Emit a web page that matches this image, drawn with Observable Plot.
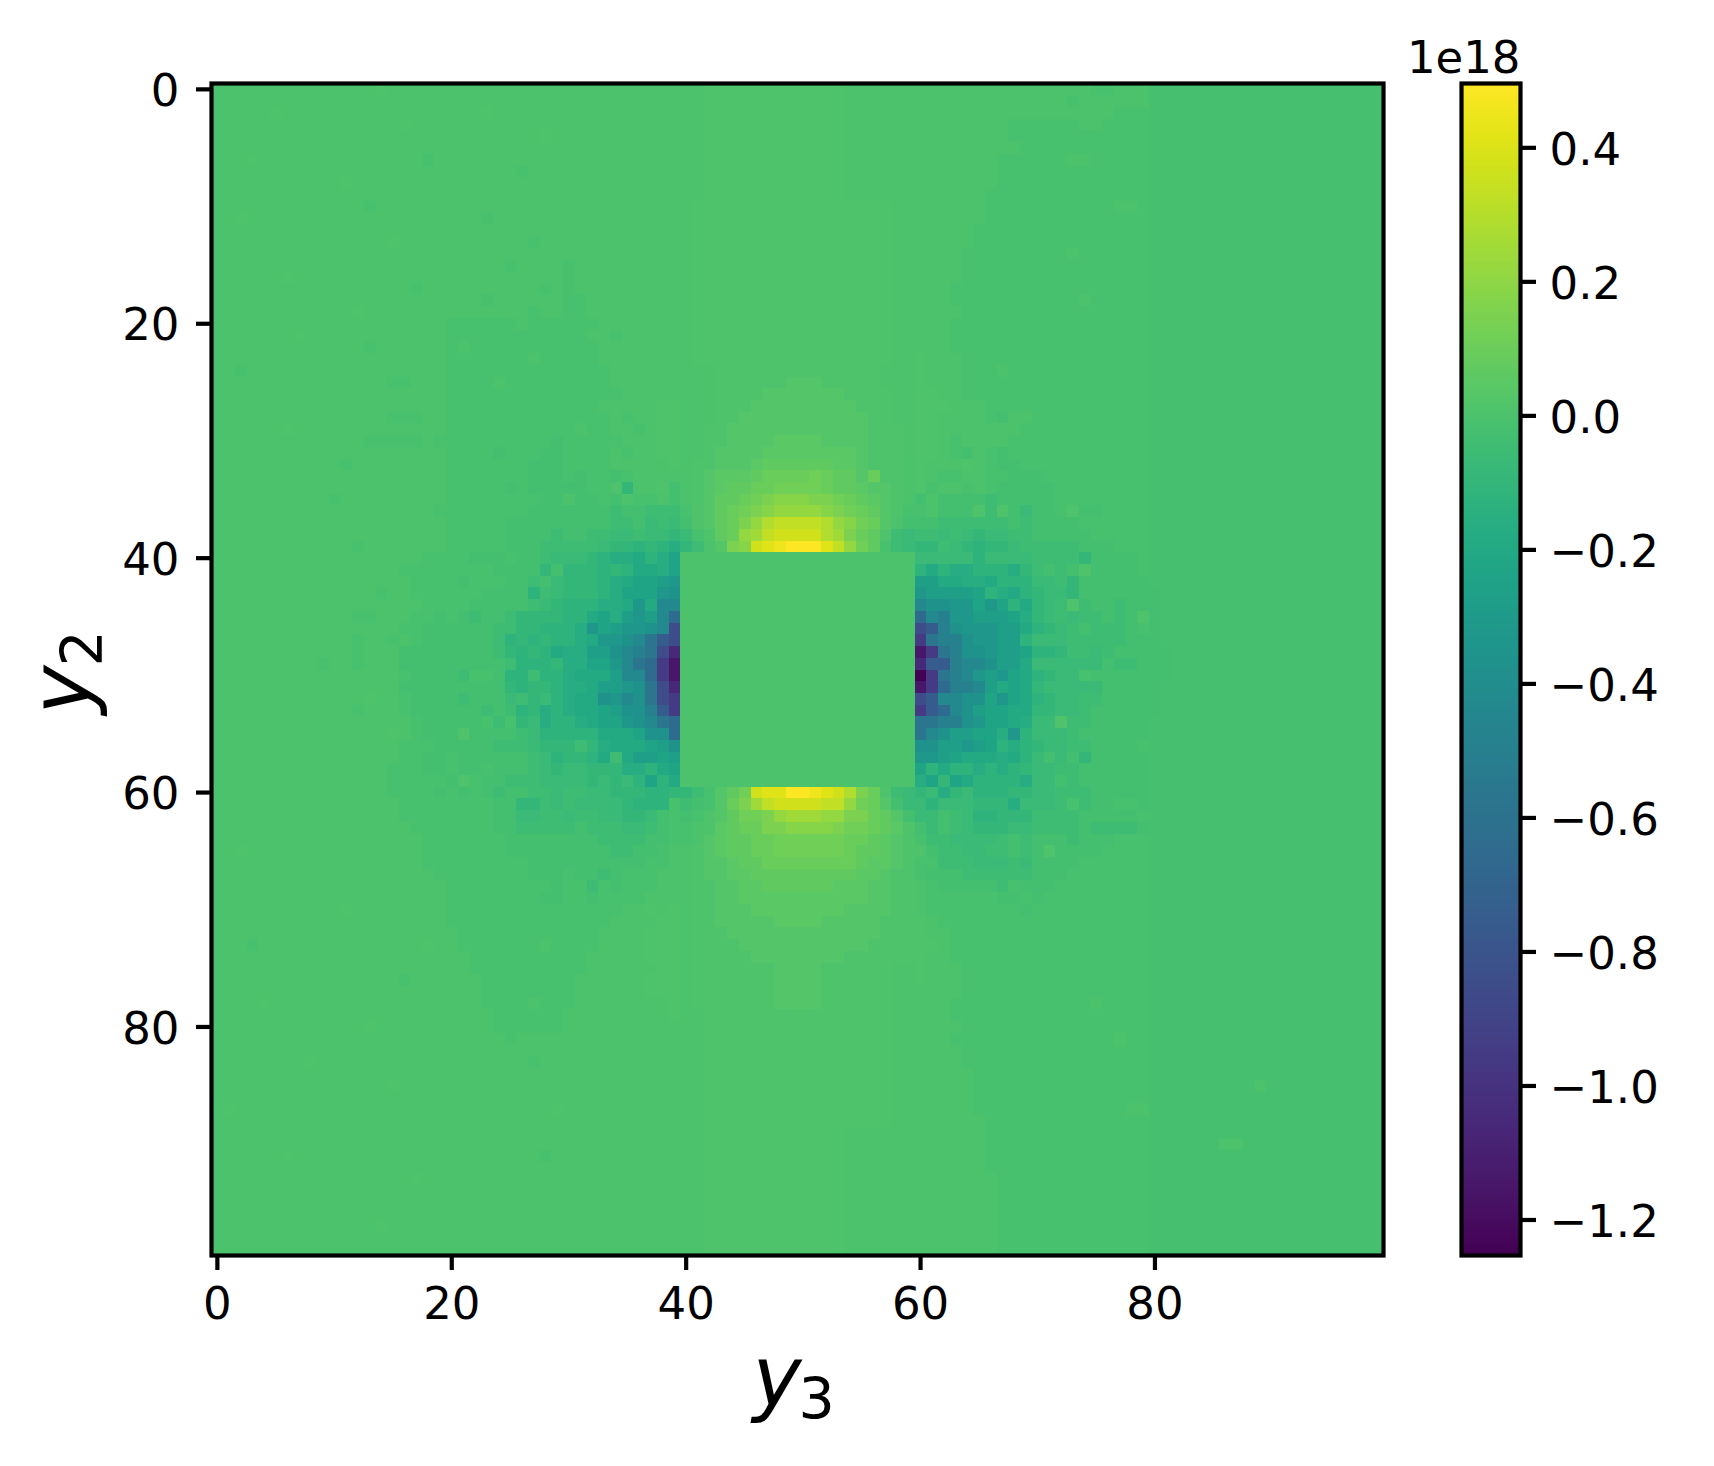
<!DOCTYPE html>
<html>
<head>
<meta charset="utf-8">
<script src="https://cdn.jsdelivr.net/npm/d3@7"></script>
<script src="https://cdn.jsdelivr.net/npm/@observablehq/plot@0.6"></script>
<style>
html,body{margin:0;padding:0;background:#fff}
#chart{position:relative;width:1714px;height:1466px;background:#fff;overflow:hidden}
#chart svg{position:absolute;top:0;background:transparent}
</style>
</head>
<body>
<div id="chart"></div>
<script>
// One character per cell; each character names a level (in units of 1e18).
const levelCodes = "VUTSRQPONMLKJIHGFEDCBWA0abcdefghijklmnop".split("");
const levelNumbers = [-1.25,-1.15,-1.05,-0.95,-0.85,-0.75,-0.65,-0.57,-0.5,-0.43,-0.37,-0.32,-0.27,-0.23,-0.19,-0.16,-0.125,-0.095,-0.07,-0.05,-0.03,-0.02,-0.01,0,0.01,0.03,0.05,0.07,0.095,0.12,0.15,0.18,0.21,0.25,0.29,0.33,0.37,0.41,0.45,0.5];

// Rows y2 = 0..99, columns y3 = 0..99 (groups of ten columns).
const gridRows = [
"0000000000 0000a00000 0000000000 0000000000 00aaaaaaaa aaaa000000 0000000000 00000AA000 WWWWWWWWWW WWWWWWWWWW",
"0000000000 0000000000 0000000000 0000000000 00aaaaaaaa aaaa000000 0000000000 000A000000 WWWWWWWWWW WWWWWWWWWW",
"00000a0000 0000000000 000a000000 0000000000 00aaaaaaaa aaaa000000 0000000000 0000000AAA WWWWWWWWWW WWWWWWWWWW",
"0000000000 000000a000 0000000000 0000000000 00aaaaaaaa aaaa000000 00000000AA AAAA00AAAA WWWWWWWWWW WWWWWWWWWW",
"0000000000 0000000000 00000000a0 0000000000 00aaaaaaaa aaaa000000 00000000AA AAAAAAAAAA WWWWWWWWWW WWWWWWWWWW",
"0000000000 0000000000 0000000000 0000000000 00aaaaaaaa aaaa000000 000000000A AAAAAAAAAA WWWWWWWWWW WWWWWWWWWW",
"000a000000 00000000A0 0000000000 0000000000 00aaaaaaaa aaaa000000 0000000AAA AAA00AAAAA WWWWWWWWWW WWWWWWWWWW",
"0000000000 0000000000 000000A000 0000000000 00aaaaaaaa aaaa000000 0000000AAA AAAAAAAAAA WWWWWWWWWW WWWWWWWWWW",
"0000000000 0a00000000 0000000000 0000000000 00aaaaaaaa aaaa000000 0000000AAA AAAAAAAAAA WWWWWWWWWW WWWWWWWWWW",
"0000000000 0000000000 0000000000 0000000000 00aaaaaaaa aaaa000000 000000AAAA AAAAAAAAAA WWWWWWWWWW WWWWWWWWWW",
"0000000000 000A000000 0000000000 0000000000 0aaaaaaaaa aaaaaaaa00 000000AAAA AAAAAAA00A WWWWWWWWWW WWWWWWWWWW",
"00a0000000 0000000000 000A000000 0000000000 0aaaaaaaaa aaaaaaaa00 000000AAAA AAAAAAAAAA WWWWWWWWWW WWWWWWWWWW",
"0000000000 0000000000 0000000000 0000000000 0aaaaaaaaa aaaaaaaa00 00000AAAAA AAAAAAAAAA WWWWWWWWWW WWWWWWWWWW",
"0000000000 00000a0000 0000000A00 0000000000 0aaaaaaaaa aaaaaaaa00 00000AAAAA AAAAAAAAAA WWWWWWWWWW WWWWWWWWWW",
"0000000000 0000000000 0000000000 0000000000 0aaaaaaaaa aaaaaaaa00 0000AAAAAA AAA0AAAAAA WWWWWWWWWW WWWWWWWWWW",
"0000000000 0000000000 00000A0000 A000000000 0aaaaaaaaa aaaaaaaa00 0000AAAAAA AAAAAAAAAA WWWWWWWWWW WWWWWWWWWW",
"000000a000 0000000000 0000000000 A000000000 0aaaaaaaaa aaaaaaaa00 0000AAAAAA AAAAAAAAAA WWWWWWWWWW WWWWWWWWWW",
"0000000000 0000000A00 00000000A0 A000000000 0aaaaaaaaa aaaaaaaa00 000AAAAAAA AAAAAAAAAA WWWWWWWWWW WWWWWWWWWW",
"0000000000 0000000000 000A000000 AA00000000 0aaaaaaaaa aaaaaaaa00 000AAAAAAA AAAA0AAAAA WWWWWWWWWW WWWWWWWWWW",
"0000000000 00a0000000 0000000A00 AA00000000 0aaaaaaaaa aaaaaaaa00 0000AAAAAA AAAAAAAAAA WWWWWWWWWW WWWWWWWWWW",
"0000000000 0000000000 AAAAAA0AAA AAA0000000 0aaaaaaaaa aaaaaaaa00 000AAAAAAA AAAAAAAAAA WWWWWWWWWW WWWWWWWWWW",
"0000000a00 0000000000 AAAAAAAAAA AA00A00000 0aaaaaaaaa aaaaaaaa00 000AAAAAAA AAAAAAAAAA WWWWWWWWWW WWWWWWWWWW",
"0000000000 000A000000 A0AAAAAAAA AAA0000000 0aaaaaaaaa aaaaaaaa00 000AAAAAAA AAAAAAAAAA WWWWWWWWWW WWWWWWWWWW",
"0000000000 0000000000 AAAAAAA0AA AAA0000000 0aaaaaaaaa aaaaaaaa00 a000AAAAAA AAAAAAAAAA WWWWWWWWWW WWWWWWWWWW",
"00A0000000 0000000000 AAAAAAAAAA AAAA000000 000aaaaaaa aaaaaaa000 a000AAA0AA AAAAAAAAAA WWWWWWWWWW WWWWWWWWWW",
"0000000000 00000AA000 AAAA0AAAAA AAAA000000 000aaaaaab bbaaaaa000 a000AAAAAA AAAAAAAAAA WWWWWWWWWW WWWWWWWWWW",
"0000000000 0000000000 AAAAAAAAAA AAAAA00000 000aaaabbb bbbbaaaa00 aa00AAAAAA AAAAAAAAAA WWWWWWWWWW WWWWWWWWWW",
"0000000000 0000000000 AAAAAAAAAA AAA00000aa 000aaabbbb bbbbbaaa00 aaa000AAAA AAAAAAAAAA WWWWWWWWWW WWWWWWWWWW",
"0000000000 00000AAA00 AAAAAAAAAA AAAA0A00aa 000aabbbbb bbbbbbaa00 aa0000AB00 AAAAAAAAAA WWWWWWWWWW WWWWWWWWWW",
"000000a000 0000000000 AAAAAAAAAA A0AA00A0aa 00aabbbbbb bbbbbbaaa0 aa0000000A AAAAAAAAAA WWWWWWWWWW WWWWWWWWWW",
"0000000000 000AAAAA0A AAAAAAAAAB AAAAA000aa 00aabbbbcc ccbbbbaaa0 aa0A0000AA AAAAAAAAAA WWWWWWWWWW WWWWWWWWWW",
"0000000000 0000000000 AAAABAAABB AAAA0A00aa 00abbbbccc cccccbaaa0 aa0AB0ABAA AAAAAAAAAA WWWWWWWWWW WWWWWWWWWW",
"0000000000 0A00000000 AAAAAAABBB AAAA00000a 0aabbbcddd dddccbaaa0 a000a0ABBA AAAAAAAAAA WWWWWWWWWW WWWWWWWWWW",
"0000000000 0000000000 AAAAAAABBB ABAABA0000 0abcccdeee efeddbeaa0 a0AA00AABB BAAAAAAAAA WWWWWWWWWW WWWWWWWWWW",
"0000000000 0000000000 AAAAABABBB BBAA0E00aB 0abcddeeff ffeddcbba0 aA00A0ABBB BBAAAAAAAA WWWWWWWWWW WWWWWWWWWW",
"0000000000 A000000000 AAAAAAAABB 0BBAB0AA0B 0abddefghh hggfedcba0 B0BBBBCBBB BBAAAAAAAA WWWWWWWWWW WWWWWWWWWW",
"0000000000 000000000A AAAAAAABBB BBBBCBBCCC Aabdefghii iihgfedbaA A0BBBaCaBD BBAaBBAAAA WWWWWWWWWW WWWWWWWWWW",
"0000000000 0000000000 AAAAABBBBB BBBBCCBDCD Babdegikll llkihfeb0B BBCCCCCCBC BBBBAAAAAA WWWWWWWWWW WWWWWWWWWW",
"0000000000 0000000000 AAAAABBBBC BBCCDDCDDE DAadeijlmm mmkjgedaCD CCDCDEDDCC BBBBBAAAAA WWWWWWWWWW WWWWWWWWWW",
"0000000000 00A0000000 AAAAABBBCC CCCDEEFEFG EC0bghmnop ppnlifdACD EECDEFEEDC CCCCBBBAAA WWWWWWWWWW WWWWWWWWWW",
"0000000000 00000000AA AABBBABBCD DDEFGGHFGI 0000000000 0000000000 DDDDDFDDDD CCCCEBBBBA WWWWWWWWWW WWWWWWWWWW",
"0000000000 000000AAAA AAAABBBBEB EEEFEFHHGI 0000000000 0000000000 FHFGGFFFGE CBCBaBBBBA WWWWWWWWWW WWWWWWWWWW",
"0000000000 0000000AAA ABAAABBCBD EEEFGHIIJK 0000000000 0000000000 JJHHGGHFFF DDCEBBBBBB WWWWWWWWWW WWWWWWWWWW",
"0000000000 0000A00AAA AAABBBBFCD EEEFGIIIKL 0000000000 0000000000 KJJJJIFGHF EDDEBBBBBB BWWWWWWWWW WWWWWWWWWW",
"0000000000 00000000AA AABBBBBCDE FFFGGHKHMM 0000000000 0000000000 MLLKKIKIFH EDCaCBBCBB BWWWWWWWWW WWWWWWWWWW",
"0000000000 00AA000AAB ABCBBCEEEE FFHIGJKJMP 0000000000 0000000000 PMNKKJJJIG EDCDCCBCBa BWWWWWWWWW WWWWWWWWWW",
"0000000000 000000AABB BBBBCCEEFF FGKIJKKLMR 0000000000 0000000000 RQNLKKKJJH FEDCBCCCBA BWWWWWWWWW WWWWWWWWWW",
"0000000000 00A00A0ABB BBBBCFEFEF FGHKKLMOQR 0000000000 0000000000 SONNLKKJJF DDDCCCCCBB BWWWWWWWWW WWWWWWWWWW",
"0000000000 00A000BBBB BBBBCEFEFH GGJJLMNORT 0000000000 0000000000 USONLLKJJI FFECCDCBBB BBWWWWWWWW WWWWWWWWWW",
"000000000A 00A000BBBB BBBBBCFFFE GGIIKMOPSU 0000000000 0000000000 TQQNMMLJJH DDDDDDBCCB BBWWWWWWWW WWWWWWWWWW",
"0000000000 000000ABBB BCAABFFCFF GHHHJMMPSU 0000000000 0000000000 VSONMKJKIH FEDDABBBBB BBWWWWWWWW WWWWWWWWWW",
"0000000000 000000BBBB BBBBBEFEEF GGHJJKLORT 0000000000 0000000000 USPNNMJHIH EDDDDDBBBB BWWWWWWWWW WWWWWWWWWW",
"0000000000 000a00ABBB BCBBBDCEDF GHHLKMLORS 0000000000 0000000000 RQMMLLIKIH FEDDCCBBBB BWWWWWWWWW WWWWWWWWWW",
"0000000000 00A000ABBB BBBCBCFEGF GHHIJLLNQS 0000000000 0000000000 SQPMLJIIHH EEDDCBBBBB BWWWWWWWWW WWWWWWWWWW",
"0000000000 0000000ABB BBBACAEDGF FGHIIKLMOP 0000000000 0000000000 OONNLKIIHG DDaCCBBBBB WWWWWWWWWW WWWWWWWWWW",
"0000000000 00000a0ABB BaBBBBCDFF FFFHHHILLP 0000000000 0000000000 OMLJJIIGKF DDDCBBBBBB WWWWWWWWWW WWWWWWWWWW",
"0000000000 000000AAAB BBBBCCCDEE ECEGHHHIJL 0000000000 0000000000 LLJJKJIFGF EDDCCBBBBA WWWWWWWWWW WWWWWWWWWW",
"0000000000 000000AABB ABBBBBBCDF EEFHCHJJIJ 0000000000 0000000000 KKJIHHHGHF DBDBEBBBBB WWWWWWWWWW WWWWWWWWWW",
"0000000000 00000AAABB ABBABBBCDE DDEEEGGFHI 0000000000 0000000000 IFHFFGFGFE DDCCBBBBBB WWWWWWWWWW WWWWWWWWWW",
"0000000000 00000AAAAA BaABBCCCDD DDEDEDFIFH 0000000000 0000000000 GIEIHFFFFG DDBCBBBBBB WWWWWWWWWW WWWWWWWWWW",
"0000000000 00000AAAAB ABABCBBCCD CCDDEEEFFE ECAbdfmnnp ponmkgeaCD EDGEDFFFEE DDCCCBBBBB WWWWWWWWWW WWWWWWWWWW",
"0000000000 000000AAAA AAAABBEECD CDDDDEFFFA CBAbegjlmm mmllifebBD DFDDDEEEGD DDCACBBAAB WWWWWWWWWW WWWWWWWWWW",
"0000000000 000000AAAA AAAABBDDCC DCCDDEEDBA BAabdffgij jjiiggedbB DDBCDFFEEE CCCCBBBBBA WWWWWWWWWW WWWWWWWWWW",
"0000000000 0000000AAA AAAABBCCCC CBCCCDDCBA A0acdeeggh hhhgffedca BDBCDEEEDD CCCCBCCCCB WWWWWWWWWW WWWWWWWWWW",
"0000000000 00000000AA AAAAABBBBB BBBCCCCBBA A0bcddeeff ffffeedcba ACCDDDDCBC BBBCBBBAAA WWWWWWWWWW WWWWWWWWWW",
"00a0000000 00000000AA AAAAABBBBB BBBBCCBBA0 0abcddeeff ffffeddcba aBCCDDCCBC BaBBBBAAAA WWWWWWWWWW WWWWWWWWWW",
"0000000000 00000000AA AAAAAAABBB BBBBBBBAA0 0abbcddeee eeeeedccba AACCCDDDCD BBBBAAAAAA WWWWWWWWWW WWWWWWWWWW",
"0000000000 000000000A AAAAAAABBB ABBCBAAA00 0abbccdddd dddddccbaa ABBBCCCCCC BBBAAAAAAA WWWWWWWWWW WWWWWWWWWW",
"0000000000 0000000000 AAAAAAAAAB AACABAAA00 0aabbccddd dddcccbbaa 0ABBBBBCAB BBAAAAAAAA WWWWWWWWWW WWWWWWWWWW",
"0000000000 0000000000 AAAAAAAABB AABAAAA000 0aabbccccc ccccccbbaa 0AAAAAABBA BAAAAAAAAA WWWWWWWWWW WWWWWWWWWW",
"0000000000 0a00000000 AAAAAAAAAA AAAAA00a0a 0aabbbcccc ccccbbbbaa 0AAAAAAAAB AAAAAAAAAA WWWWWWWWWW WWWWWWWWWW",
"0000000000 0000000000 AAAAAAAAAA AAAA0000aa 0aabbbbbcc ccbbbbbaaa a0AAAAAAAA AAAAAAAAAA WWWWWWWWWW WWWWWWWWWW",
"0000000000 0000000000 0AAAAAAAAA AAA0000aaa 0aaabbbbbb bbbbbbbaaa a00AAAAAAA AAAAAAAAAA WWWWWWWWWW WWWWWWWWWW",
"000A000000 00000000a0 0AAAAAAA0A AAA0000aaa 0aaaabbbbb bbbbbbaaaa aa0AAAAAAA AAAAAAAAAA WWWWWWWWWW WWWWWWWWWW",
"0000000000 0000000000 00AAAAAAAA AA00000aaa 0aaaaabbbb bbbbaaaaaa a00AAAAAAA AAAAAAAAAA WWWWWWWWWW WWWWWWWWWW",
"0000000000 0000000000 00AAAAAAAA AA000000aa 0aaaaaaabb bbaaaaaa00 a000AAAAAA AAAAAAAAAA WWWWWWWWWW WWWWWWWWWW",
"0000000000 000000A000 000AAAAAAA A000000aaa 0aaaaaaabb bbaaaaaa00 a000AAAAAA AAAAAAAAAA WWWWWWWWWW WWWWWWWWWW",
"0000000000 0000000000 000AAAAAAA A000000aaa 0aaaaaaabb bbaaaaaa00 0000AAAAAA AAAAAAAAAA WWWWWWWWWW WWWWWWWWWW",
"0000a00000 0000000000 000AAAA0AA A00000000a 0aaaaaaabb bbaaaaaa00 000AAAAAAA AAAAA0AAAA WWWWWWWWWW WWWWWWWWWW",
"0000000000 0000000000 0000AAAAAA 000000000a 00aaaaaaaa aaaaaaaa00 000AAAAAAA AAAAAAAAAA WWWWWWWWWW WWWWWWWWWW",
"0000000000 000a000000 0000AAAAAA 0000000000 00aaaaaaaa aaaaaaaa00 0000AAAAAA AAAAAAAAAA WWWWWWWWWW WWWWWWWWWW",
"0000000000 0000000000 00000A0000 0000000000 00aaaaaaaa aaaaaaaa00 000AAAAAAA AAAAAAA0AA WWWWWWWWWW WWWWWWWWWW",
"0000000000 0000000000 0000000000 0000000000 00aaaaaaaa aaaaaaaa00 0000AAAAAA AAAAAAAAAA WWWWWWWWWW WWWWWWWWWW",
"00000000a0 0000000000 0000000A00 0000000000 00aaaaaaaa aaaaaaaa00 0000AAAAAA AAAAAAAAAA WWWWWWWWWW WWWWWWWWWW",
"0000000000 0000000000 0000000000 0000000000 00aaaaaaaa aaaaaaaa00 00000AAAAA AAAAAAAAAA WWWWWWWWWW WWWWWWWWWW",
"0000000000 00000a0000 0000000000 0000000000 00aaaaaaaa aaaaaaaa00 00000AAAAA AAAAAAAAAA WWWWWWWWW0 WWWWWWWWWW",
"0000000000 0000000000 0000000000 0000000000 00aaaaaaaa aaaaaaaa00 00000AAAAA AAAAAAAAAA WWWWWWWWWW WWWWWWWWWW",
"0a00000000 0000000000 000000000a 0000000000 00aaaaaaaa aaaaaaaa00 00000AAAAA AAAAAAAA00 WWWWWWWWWW WWWWWWWWWW",
"0000000000 0000000000 0000000000 0000000000 00aaaaaaaa aaaaaaaa00 000000AAAA AAAAAAAAAA WWWWWWWWWW WWWWWWWWWW",
"0000000000 0000000000 0000000000 0000000000 00aaaaaaaa aaaa000000 000000AAAA AAAAAAAAAA WWWWWWWWWW WWWWWWWWWW",
"0000000000 0000000000 0000000000 0000000000 00aaaaaaaa aaaa000000 000000AAAA AAAAAAAAAA WWWWWW00WW WWWWWWWWWW",
"000000a000 0000000000 00000000A0 0000000000 00aaaaaaaa aaaa000000 000000AAAA AAAAAAAAAA WWWWWWWWWW WWWWWWWWWW",
"0000000000 0000000000 0000000000 0000000000 00aaaaaaaa aaaa000000 000000AAAA AAAAAAAAAA WWWWWWWWWW WWWWWWWWWW",
"0000000000 0000000a00 0000000000 0000000000 00aaaaaaaa aaaa000000 0000000AAA AAAAAAAAAA WWWWWWWWWW WWWWWWWWWW",
"0000000000 0000000000 0000000000 0000000000 00aaaaaaaa aaaa000000 0000000AAA AAAAAAAAAA WWWWWWWWWW WWWWWWWWWW",
"0000000000 0000000000 0000000000 0000000000 00aaaaaaaa aaaa000000 0000000AAA AAAAAAAAAA WWWWWWWWWW WWWWWWWWWW",
"0000000000 0000000000 0000000000 0000000000 00aaaaaaaa aaaa000000 0000000AAA AAAAAAAAAA WWWWWWWWWW WWWWWWWWWW",
"0000000000 0000a00000 0000000000 0000000000 00aaaaaaaa aaaa000000 0000000AAA AAAAAAAAAA WWWWWWWWWW WWWWWWWWWW",
"0000000000 0000000000 0000000000 0000000000 00aaaaaaaa aaaa000000 0000000AAA AAAAAAAAAA WWWWWWWWWW WWWWWWWWWW",
"0000000000 0000000000 0000000000 0000000000 00aaaaaaaa aaaa000000 0000000AAA AAAAAAAAAA WWWWWWWWWW WWWWWWWWWW"
];

const axisTicks = [0, 20, 40, 60, 80];
const colorbarTicks = [-1.2, -1.0, -0.8, -0.6, -0.4, -0.2, 0.0, 0.2, 0.4];
const colorDomain = [-1.253, 0.496];
const colorbarOffset = "1e18";
const xLabel = ["y", "3"];
const yLabel = ["y", "2"];

const levelByCode = new Map(levelCodes.map((c, i) => [c, levelNumbers[i]]));
const cellValues = gridRows.flatMap(row => row.replace(/ /g, "").padEnd(100, "0").slice(0, 100).split("").map(c => levelByCode.get(c)));
const colorbarStops = d3.range(256).map(i => d3.interpolateNumber(colorDomain[1], colorDomain[0])((i + 0.5) / 256));

const fontName = "'DejaVu Sans'";
const colorScale = {type: "linear", scheme: "viridis", domain: colorDomain};
const side = 1172, plotTop = 83, pageH = 1466;
const labelSize = 45;

const mainPlot = Plot.plot({
  width: 1400, height: pageH,
  marginLeft: 211, marginRight: 1400 - 211 - side, marginTop: plotTop, marginBottom: pageH - plotTop - side,
  style: {fontFamily: fontName, color: "#000", background: "transparent"},
  x: {domain: [-0.5, 99.5], label: null},
  y: {domain: [99.5, -0.5], label: null},
  color: colorScale,
  marks: [
    Plot.raster(cellValues, {width: 100, height: 100, x1: -0.5, x2: 99.5, y1: -0.5, y2: 99.5, fill: d => d, imageRendering: "pixelated"}),
    Plot.frame({stroke: "#000", strokeWidth: 4.2}),
    Plot.axisX({ticks: axisTicks, tickFormat: d => String(d), tickSize: 15, strokeWidth: 4.2, tickPadding: 17, fontSize: labelSize, anchor: "bottom", label: null}),
    Plot.axisY({ticks: axisTicks, tickSize: 15, strokeWidth: 4.2, fill: "none", anchor: "left", label: null}),
    Plot.axisY({ticks: axisTicks, tickFormat: d => String(d), tickSize: 0, tickPadding: 32, dy: 2.3, fontSize: labelSize, anchor: "left", label: null}),
    Plot.text([xLabel[0]], {frameAnchor: "bottom", dx: -45, dy: 150, textAnchor: "start", lineAnchor: "bottom", fontSize: 83, fontStyle: "italic", fill: "#000"}),
    Plot.text([xLabel[1]], {frameAnchor: "bottom", dx: 1, dy: 163, textAnchor: "start", lineAnchor: "bottom", fontSize: 57, fill: "#000"}),
    Plot.text([yLabel[0]], {frameAnchor: "left", dx: -122, dy: 45, rotate: -90, textAnchor: "start", lineAnchor: "bottom", fontSize: 83, fontStyle: "italic", fill: "#000"}),
    Plot.text([yLabel[1]], {frameAnchor: "left", dx: -110, dy: -3, rotate: -90, textAnchor: "start", lineAnchor: "bottom", fontSize: 57, fill: "#000"})
  ]
});
mainPlot.style.left = "0px";

const barLeft = 1400;
const barPlot = Plot.plot({
  width: 314, height: pageH,
  marginLeft: 1461 - barLeft, marginRight: 314 - (1520 - barLeft), marginTop: plotTop, marginBottom: pageH - plotTop - side,
  style: {fontFamily: fontName, color: "#000", background: "transparent"},
  x: {domain: [0, 1], axis: null},
  y: {domain: colorDomain, label: null},
  color: colorScale,
  marks: [
    Plot.raster(colorbarStops, {width: 1, height: 256, x1: 0, x2: 1, y1: colorDomain[1], y2: colorDomain[0], fill: d => d, imageRendering: "pixelated"}),
    Plot.frame({stroke: "#000", strokeWidth: 4.2}),
    Plot.axisY({anchor: "right", ticks: colorbarTicks, tickSize: 15, strokeWidth: 4.2, fill: "none", label: null}),
    Plot.axisY({anchor: "right", ticks: colorbarTicks, tickFormat: d => d.toFixed(1).replace("-", "\u2212"), tickSize: 0, tickPadding: 29, dy: 2.3, fontSize: labelSize, label: null}),
    Plot.text([colorbarOffset], {frameAnchor: "top-right", dy: -11, textAnchor: "end", lineAnchor: "bottom", fontSize: labelSize, fill: "#000"})
  ]
});
barPlot.style.left = barLeft + "px";

document.getElementById("chart").append(mainPlot, barPlot);
</script>
</body>
</html>
